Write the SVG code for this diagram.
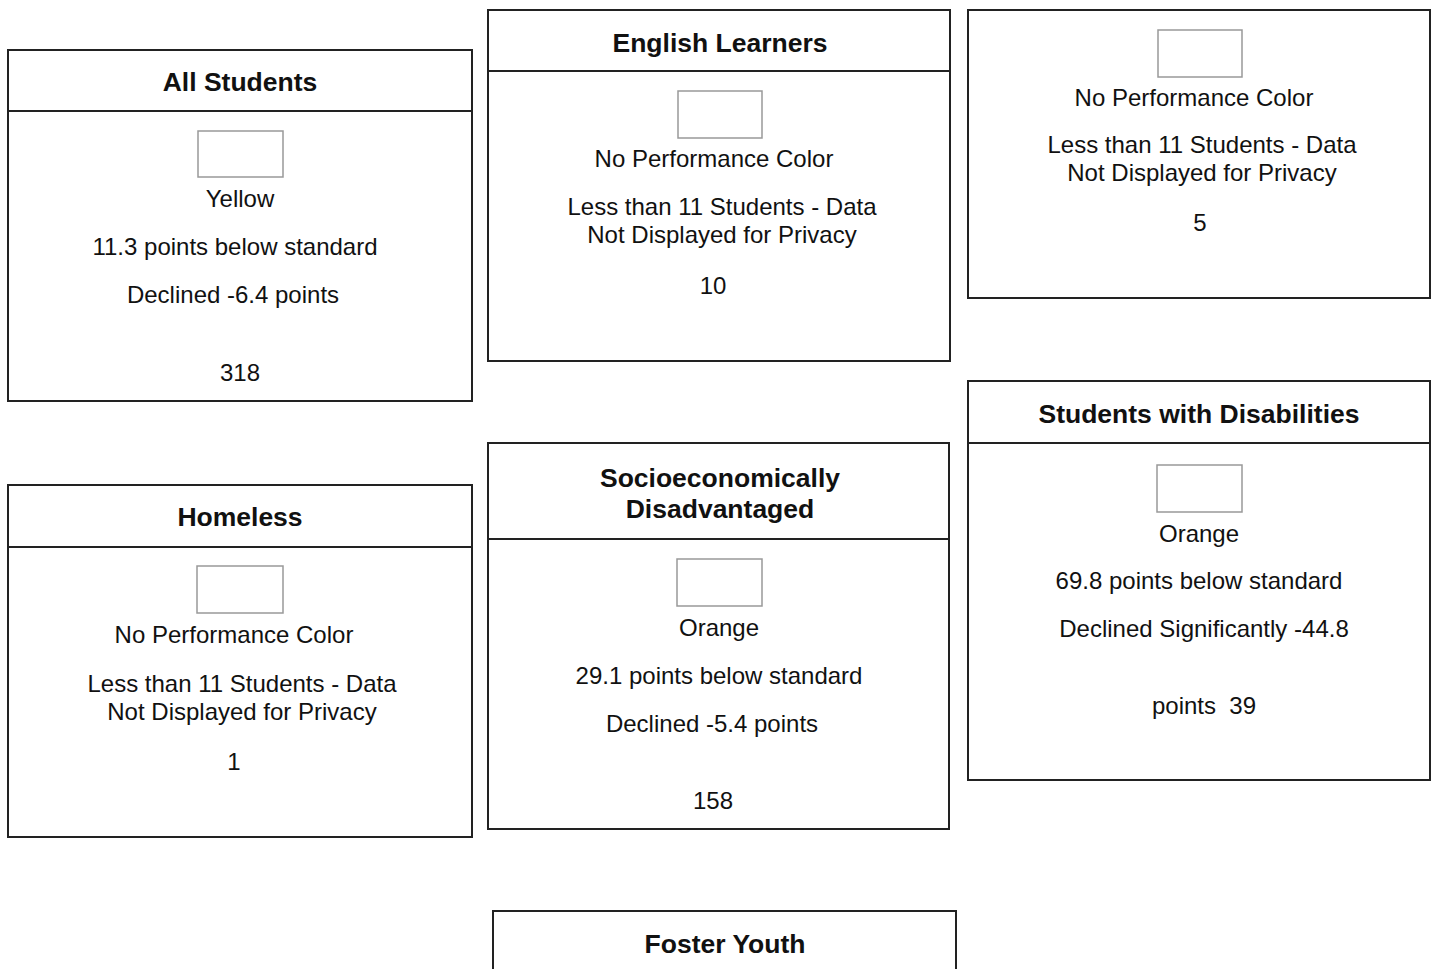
<svg xmlns="http://www.w3.org/2000/svg" width="1434" height="969" viewBox="0 0 1434 969">
<style>
.box{fill:#fff;stroke:#222;stroke-width:2}
.hl{stroke:#222;stroke-width:2}
.sw{fill:#fff;stroke:#999;stroke-width:1.5}
.t{font-family:"Liberation Sans",Arial,sans-serif;font-weight:bold;font-size:26.5px;fill:#111;text-anchor:middle}
.b{font-family:"Liberation Sans",Arial,sans-serif;font-size:24px;fill:#111;text-anchor:middle}
</style>
<rect width="1434" height="969" fill="#fff"/>
<g id="connectors"></g>
<g id="all-students">
<rect class="box" x="8" y="50" width="464" height="351"/>
<line class="hl" x1="8" y1="111" x2="472" y2="111"/>
<text class="t" x="240" y="91">All Students</text>
<rect class="sw" x="198" y="131" width="85" height="46"/>
<text class="b" x="240" y="207">Yellow</text>
<text class="b" x="235" y="255">11.3 points below standard</text>
<text class="b" x="233" y="303">Declined -6.4 points</text>
<text class="b" x="240" y="381">318</text>
</g>
<g id="english-learners">
<rect class="box" x="488" y="10" width="462" height="351"/>
<line class="hl" x1="488" y1="71" x2="950" y2="71"/>
<text class="t" x="720" y="52">English Learners</text>
<rect class="sw" x="678" y="91" width="84" height="47"/>
<text class="b" x="714" y="167">No Performance Color</text>
<text class="b" x="722" y="215">Less than 11 Students - Data</text>
<text class="b" x="722" y="243">Not Displayed for Privacy</text>
<text class="b" x="713" y="294">10</text>
</g>
<g id="unnamed-group">
<rect class="box" x="968" y="10" width="462" height="288"/>
<rect class="sw" x="1158" y="30" width="84" height="47"/>
<text class="b" x="1194" y="106">No Performance Color</text>
<text class="b" x="1202" y="153">Less than 11 Students - Data</text>
<text class="b" x="1202" y="181">Not Displayed for Privacy</text>
<text class="b" x="1200" y="231">5</text>
</g>
<g id="students-with-disabilities">
<rect class="box" x="968" y="381" width="462" height="399"/>
<line class="hl" x1="968" y1="443" x2="1430" y2="443"/>
<text class="t" x="1199" y="423">Students with Disabilities</text>
<rect class="sw" x="1157" y="465" width="85" height="47"/>
<text class="b" x="1199" y="542">Orange</text>
<text class="b" x="1199" y="589">69.8 points below standard</text>
<text class="b" x="1204" y="637">Declined Significantly -44.8</text>
<text class="b" x="1204" y="714" style="white-space:pre">points  39</text>
</g>
<g id="homeless">
<rect class="box" x="8" y="485" width="464" height="352"/>
<line class="hl" x1="8" y1="547" x2="472" y2="547"/>
<text class="t" x="240" y="526">Homeless</text>
<rect class="sw" x="197" y="566" width="86" height="47"/>
<text class="b" x="234" y="643">No Performance Color</text>
<text class="b" x="242" y="692">Less than 11 Students - Data</text>
<text class="b" x="242" y="720">Not Displayed for Privacy</text>
<text class="b" x="234" y="770">1</text>
</g>
<g id="socioeconomically-disadvantaged">
<rect class="box" x="488" y="443" width="461" height="386"/>
<line class="hl" x1="488" y1="539" x2="949" y2="539"/>
<text class="t" x="720" y="487">Socioeconomically</text>
<text class="t" x="720" y="518">Disadvantaged</text>
<rect class="sw" x="677" y="559" width="85" height="47"/>
<text class="b" x="719" y="636">Orange</text>
<text class="b" x="719" y="684">29.1 points below standard</text>
<text class="b" x="712" y="732">Declined -5.4 points</text>
<text class="b" x="713" y="809">158</text>
</g>
<g id="foster-youth">
<rect class="box" x="493" y="911" width="463" height="100"/>
<text class="t" x="725" y="953">Foster Youth</text>
</g>
</svg>
